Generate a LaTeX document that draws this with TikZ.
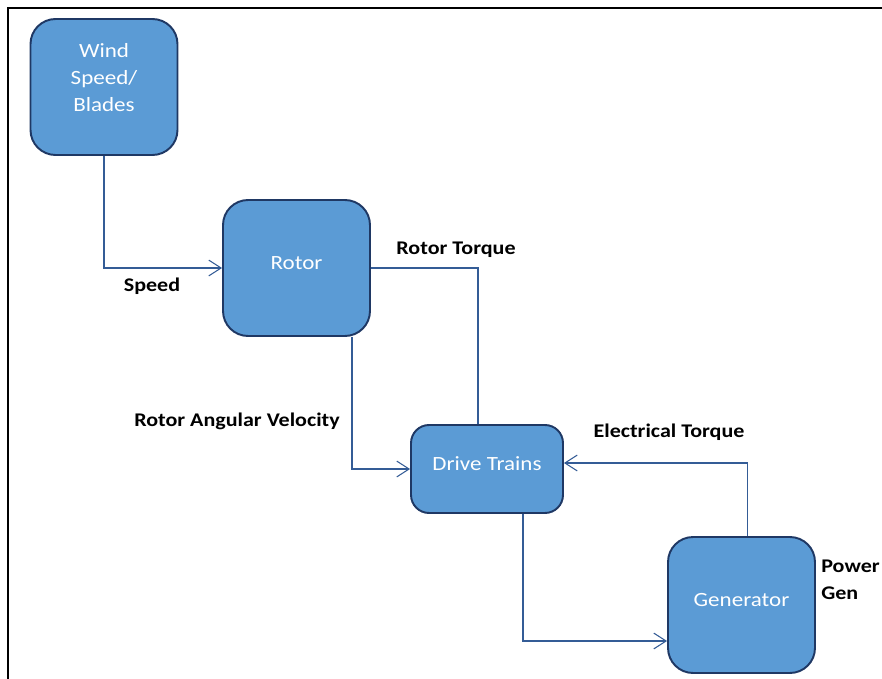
\documentclass[tikz,border=0pt]{standalone}
\usepackage{fontspec}
\setmainfont{Carlito}[FakeStretch=1.14]
\usepackage{xcolor}
\usepackage{tikz}
\usetikzlibrary{calc,arrows.meta}
\definecolor{boxblue}{RGB}{91,155,213}
\definecolor{boxedge}{RGB}{31,56,100}
\definecolor{wireblue}{RGB}{52,92,150}

\begin{document}
\begin{tikzpicture}[x=0.02cm,y=-0.02cm,
    blk/.style={draw=boxedge, line width=1.1pt, fill=boxblue, rounded corners=0.5cm,
      minimum width=2.94cm, minimum height=2.72cm, align=center, text=white,
      text height=0.3cm, text depth=0.26cm, font=\fontsize{11.5}{15.4}\selectfont},
    boxtxt/.style={align=center, text=white, font=\fontsize{11.5}{15.4}\selectfont},
    lbl/.style={font=\fontsize{11}{15.4}\selectfont\bfseries, align=left},
    conn/.style={draw=wireblue, line width=0.6pt},
    tip/.style={-{Straight Barb[length=7pt,width=9pt]}}]
  \useasboundingbox (0,0) rectangle (882,679);
  \draw[line width=1.2pt] (8,679)--(8,8)--(882,8);
  \node[blk] (wind) at (104,87) {};
  \node[boxtxt] (windtxt) at ([yshift=0.18cm]wind.center) {Wind\\Speed/\\Blades};
  \node[blk] (rotor) at (296.5,268) {Rotor};
  \node[blk, minimum width=3.04cm, minimum height=1.76cm, rounded corners=0.36cm] (drive) at (487,469) {Drive Trains};
  \node[blk] (gen) at (741.5,605) {Generator};
  % flows between the blocks
  \draw[conn,tip] (wind.south) |- (rotor.west);
  \draw[conn] (rotor.east) -| ([xshift=-0.18cm]drive.north);
  \draw[conn,tip] ([xshift=1.11cm]rotor.south) |- (drive.west);
  \draw[conn,tip] ([xshift=0.12cm]gen.north) |- ([yshift=0.12cm]drive.east);
  \draw[conn,tip] ([xshift=0.72cm]drive.south) |- ([yshift=-0.72cm]gen.west);
  % labels
  \node[lbl] (speed) at (152,286) {Speed};
  \node[lbl] (rtorque) at (456,250) {Rotor Torque};
  \node[lbl] (rangvel) at (237,421) {Rotor Angular Velocity};
  \node[lbl] (etorque) at (669,432) {Electrical Torque};
  \node[lbl, anchor=west, inner xsep=0pt] (power) at (821,580) {Power\\Gen};
\end{tikzpicture}
\end{document}
